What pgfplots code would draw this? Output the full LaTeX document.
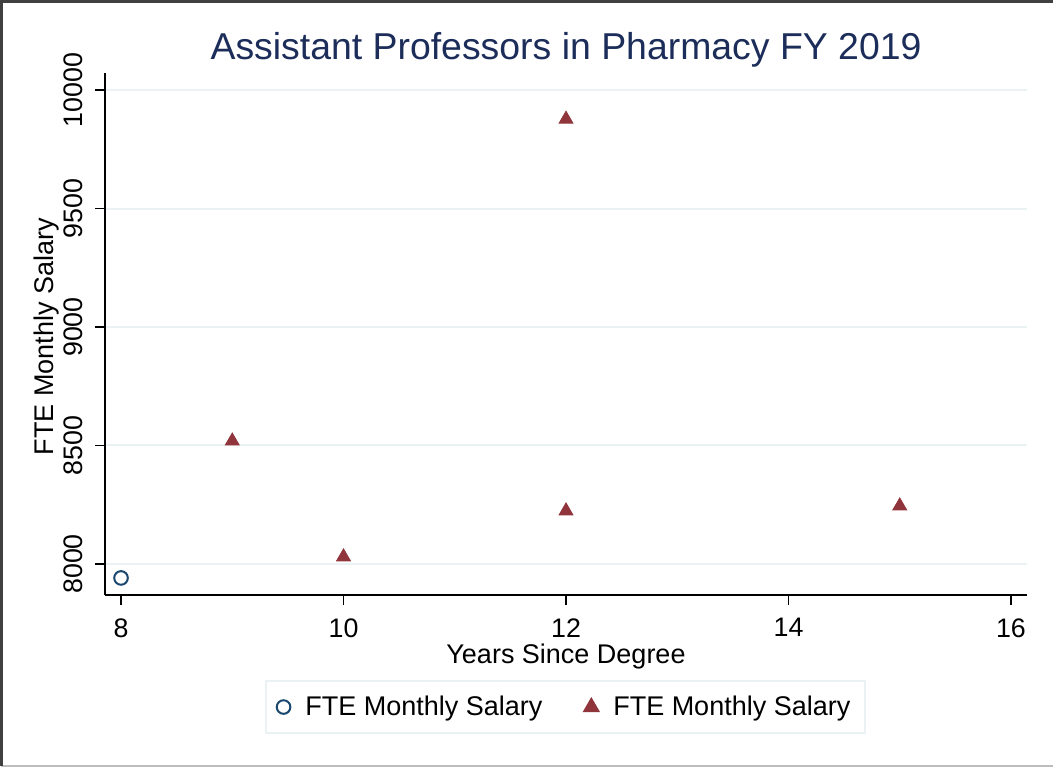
\documentclass[border=0pt]{standalone}
\usepackage{pgfplots}
\pgfplotsset{compat=1.18}
\usepackage{fontspec}
\setmainfont{Liberation Sans}
\definecolor{stnavy}{RGB}{26,71,111}
\definecolor{stmaroon}{RGB}{144,53,59}
\definecolor{sttitle}{RGB}{28,45,90}
\definecolor{stgrid}{RGB}{234,242,243}
\definecolor{stframe}{RGB}{64,64,64}
\definecolor{stframelight}{RGB}{190,190,190}
\begin{document}
\begin{tikzpicture}
\path[use as bounding box] (0pt,0pt) rectangle (526.5pt,383.5pt);
\draw[stframelight,line width=1.2pt] (0.6pt,0.6pt) -- (526.5pt,0.6pt);
\draw[stframe,line width=1.5pt] (0.75pt,0.6pt) -- (0.75pt,382.75pt) -- (526.5pt,382.75pt);
\begin{axis}[
  at={(52.5pt,86pt)}, anchor=south west,
  scale only axis,
  width=461pt, height=261pt,
  xmin=7.856, xmax=16.144,
  ymin=7869, ymax=10072,
  axis x line*=bottom, axis y line*=left,
  axis line style={black,line width=0.8pt,-},
  xtick={8,10,12,14,16},
  ytick={8000,8500,9000,9500,10000},
  scaled y ticks=false,
  tick align=outside,
  major tick length=5pt,
  tick style={black,line width=0.8pt},
  ymajorgrids,
  grid style={stgrid,line width=1pt},
  /pgf/number format/assume math mode=true,
  /pgf/number format/1000 sep={},
  ticklabel style={font=\fontsize{13.4}{15}\selectfont},
  yticklabel style={xshift=-5.8pt, rotate=90, anchor=south, inner sep=0pt},
  xticklabel style={anchor=north, inner sep=0pt, yshift=-6.5pt},
  xlabel={Years Since Degree},
  ylabel={FTE Monthly Salary},
  label style={font=\fontsize{13.5}{15}\selectfont},
  xlabel style={at={(axis description cs:0.5,-0.117)}, anchor=center},
  ylabel style={at={(axis description cs:-0.063,0.495)}, anchor=center},
  title={Assistant Professors in Pharmacy FY 2019},
  title style={at={(axis description cs:0.5,1)}, anchor=base, yshift=0.8pt, font=\fontsize{18.7}{22}\selectfont, text=sttitle},
  legend columns=2,
  legend style={at={(axis description cs:0.4995,-0.2146)}, anchor=center,
    draw=stgrid, line width=1pt, font=\fontsize{13.5}{15}\selectfont,
    inner xsep=5.5pt, inner ysep=5.2pt,
    /tikz/every odd column/.append style={column sep=5.5pt},
    /tikz/every even column/.append style={column sep=19pt}},
  legend image code/.code={\draw[#1] plot coordinates {(0.3em,0pt)};},
]
\addplot[only marks, mark=o, mark size=3.4pt, draw=stnavy, mark options={line width=1pt}] coordinates {(8,7941)};
\addlegendentry{FTE Monthly Salary}
\addplot[only marks, mark=triangle*, mark size=4pt, color=stmaroon, fill=stmaroon] coordinates {
(9,8519) (10,8030) (12,8224) (12,9877) (15,8245)};
\addlegendentry{FTE Monthly Salary}
\end{axis}
\end{tikzpicture}
\end{document}
